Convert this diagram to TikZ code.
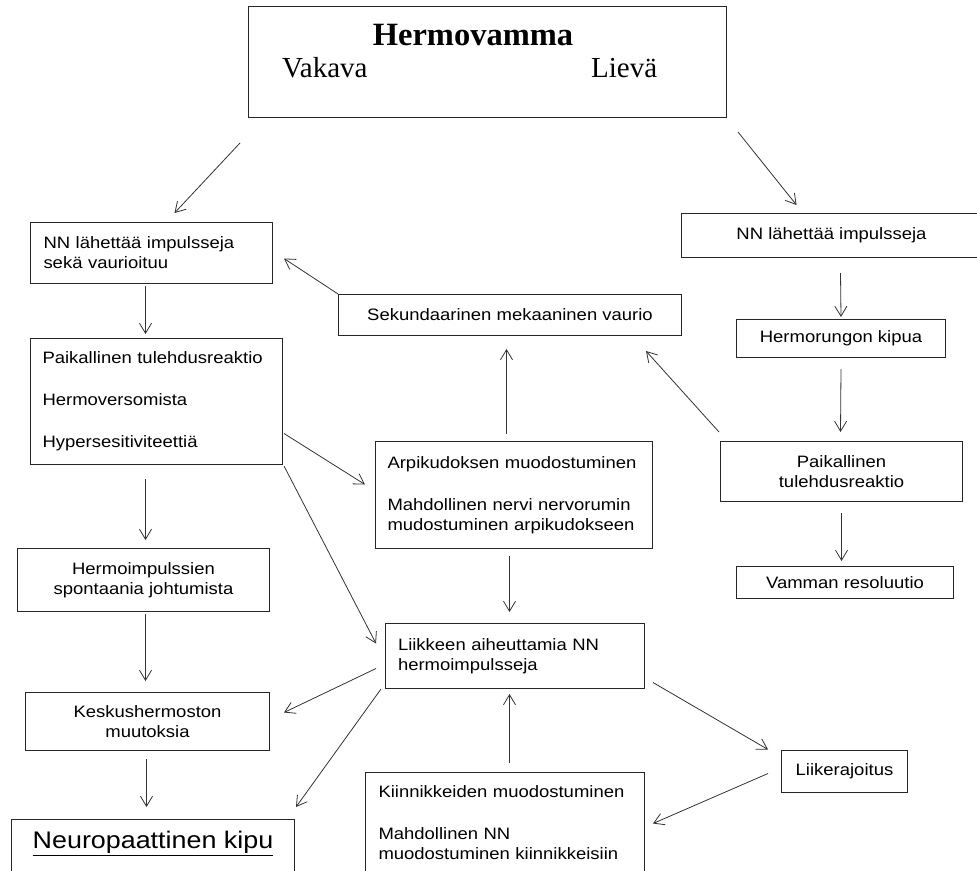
\documentclass[tikz,border=0pt]{standalone}
\usepackage{fontspec}
\setmainfont{Liberation Sans}[FakeStretch=1.12]
\newfontfamily\timesfont{Liberation Serif}
\usepackage{tikz}
\usetikzlibrary{arrows.meta, positioning, calc}

\tikzset{
  box/.style={draw=black!85, line width=1pt, rectangle, anchor=north west, inner sep=0pt,
    font=\fontsize{16.5}{20}\selectfont},
  lbox/.style={box, align=left},
  cbox/.style={box, align=center},
  arr/.style={-{Straight Barb[length=10pt,width=12pt]}, line width=0.8pt, black!80}
}

\begin{document}
\begin{tikzpicture}[x=1pt, y=-1pt]
		\useasboundingbox (0,0) rectangle (977,870);
		% Top box
		\node[box, minimum width=478, minimum height=111] (top) at (248,6) {};
		\node[anchor=base, font=\timesfont\bfseries\fontsize{32.5}{38}\selectfont] (title) at (473,45) {Hermovamma};
		\node[anchor=base west, inner sep=0pt, font=\timesfont\fontsize{29}{34}\selectfont] (vakava) at (282,77) {Vakava};
		\node[anchor=base west, inner sep=0pt, font=\timesfont\fontsize{29}{34}\selectfont] (lieva) at (591,77) {Lievä};
		% Left column
		\node[lbox, minimum width=242, minimum height=61, text width=216pt] (nn1) at (30,222) {NN lähettää impulsseja\\sekä vaurioituu};
		\node[lbox, minimum width=252, minimum height=126, text width=228pt] (paik1) at (30,338) {Paikallinen tulehdusreaktio\\[22pt]Hermoversomista\\[22pt]Hypersesitiviteettiä};
		\node[cbox, minimum width=252, minimum height=63] (hermimp) at (17,548) {Hermoimpulssien\\spontaania johtumista};
		\node[cbox, minimum width=244, minimum height=58] (keskus) at (25,692) {Keskushermoston\\muutoksia};
		\node[cbox, minimum width=283, inner ysep=8pt, text height=21pt, text depth=40pt, font=\fontsize{24}{28}\selectfont] (neuro) at (11,819) {\underline{Neuropaattinen kipu}};
		% Middle column
		\node[cbox, minimum width=343, minimum height=41] (sekund) at (338,294) {Sekundaarinen mekaaninen vaurio};
		\node[lbox, minimum width=277, minimum height=107, text width=253pt] (arpi) at (375,441) {Arpikudoksen muodostuminen\\[22pt]Mahdollinen nervi nervorumin\\mudostuminen arpikudokseen};
		\node[lbox, minimum width=259, minimum height=65, text width=234pt] (liikkeen) at (385,623) {Liikkeen aiheuttamia NN\\hermoimpulsseja};
		\node[lbox, minimum width=279, minimum height=100, text width=253pt] (kiinn) at (365,772) {Kiinnikkeiden muodostuminen\\[22pt]Mahdollinen NN\\muodostuminen kiinnikkeisiin};
		% Right column
		\node[cbox, minimum width=300, minimum height=44] (nn2) at (681,213) {NN lähettää impulsseja};
		\node[cbox, minimum width=209, minimum height=38] (kipu) at (736,319) {Hermorungon kipua};
		\node[cbox, minimum width=242, minimum height=60] (paik2) at (720,441) {Paikallinen\\tulehdusreaktio};
		\node[cbox, minimum width=217, minimum height=32] (vamman) at (736,566) {Vamman resoluutio};
		\node[cbox, minimum width=126, minimum height=42] (liike) at (781,750) {Liikerajoitus};
		% Arrows
		\draw[arr] ([shift={(-8,25)}]top.south west) -- ([shift={(23,-9)}]nn1.north);
		\draw[arr] ([shift={(11,14)}]top.south east) -- ([shift={(-35,-8)}]nn2.north);
		\draw[arr] ([shift={(-6,2)}]nn1.south) -- ([shift={(-11,-4)}]paik1.north);
		\draw[arr] ([shift={(-11,14)}]paik1.south) -- ([shift={(2,-8)}]hermimp.north);
		\draw[arr] ([shift={(2,2)}]hermimp.south) -- ([shift={(-2,-11)}]keskus.north);
		\draw[arr] ([shift={(-1,8)}]keskus.south) -- ([shift={(-6.5,-12)}]neuro.north);
		\draw[arr] ([shift={(1,32)}]paik1.east) -- ([shift={(-10,-10.5)}]arpi.west);
		\draw[arr] ([shift={(1,1)}]paik1.south east) -- ([shift={(-9,-12.5)}]liikkeen.west);
		\draw[arr] (sekund.north west) -- ([shift={(11,5.5)}]nn1.east);
		\draw[arr] ([shift={(-7.5,-7)}]arpi.north) -- ([shift={(-3.5,13)}]sekund.south);
		\draw[arr] ([shift={(-1,-9)}]paik2.north west) -- ([shift={(-36,15)}]sekund.south east);
		\draw[arr] ([shift={(9,15)}]nn2.south) -- ([shift={(0,-2)}]kipu.north);
		\draw[arr] ([shift={(0,11)}]kipu.south) -- ([shift={(-1,-9)}]paik2.north);
		\draw[arr] ([shift={(0,11)}]paik2.south) -- ([shift={(-3.5,-5)}]vamman.north);
		\draw[arr] ([shift={(-4.5,7)}]arpi.south) -- ([shift={(-5.5,-11)}]liikkeen.north);
		\draw[arr] ([shift={(-9,12.5)}]liikkeen.west) -- ([shift={(14,-9)}]keskus.east);
		\draw[arr] ([shift={(-4,0)}]liikkeen.south west) -- ([shift={(1,-12)}]neuro.north east);
		\draw[arr] ([shift={(8,26.5)}]liikkeen.east) -- ([shift={(-13,-22)}]liike.west);
		\draw[arr] ([shift={(-13,2)}]liike.west) -- ([shift={(8,1)}]kiinn.east);
		\draw[arr] ([shift={(4.5,-9)}]kiinn.north) -- ([shift={(-5.5,5)}]liikkeen.south);
	\end{tikzpicture}
\end{document}
